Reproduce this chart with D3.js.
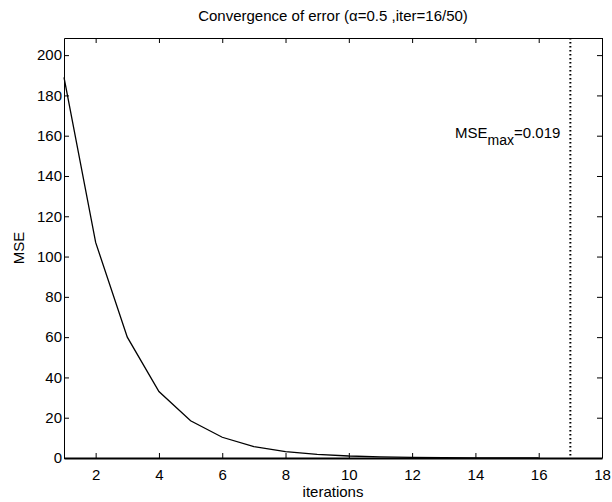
<!DOCTYPE html>
<html>
<head>
<meta charset="utf-8">
<script src="https://cdn.jsdelivr.net/npm/d3@7"></script>
<style>
  body { margin: 0; background: #fff; }
  text { font-family: "Liberation Sans", Arial, sans-serif; fill: #000; }
</style>
</head>
<body>
<div id="chart"></div>
<script>
// values
const iterations = [1, 2, 3, 4, 5, 6, 7, 8, 9, 10, 11, 12, 13, 14, 15, 16];
const mse = [189, 107, 60, 33, 18.5, 10.3, 5.7, 3.2, 1.8, 1.0, 0.55, 0.3, 0.17, 0.09, 0.05, 0.03];
const xTicks = [2, 4, 6, 8, 10, 12, 14, 16, 18];
const yTicks = [0, 20, 40, 60, 80, 100, 120, 140, 160, 180, 200];
const stopIter = 17;
const titleText = "Convergence of error (\u03b1=0.5 ,iter=16/50)";

const W = 612, H = 502;
const margin = { top: 38, right: 10, bottom: 44, left: 64 };
const width = W - margin.left - margin.right;
const height = H - margin.top - margin.bottom;

const svg = d3.select("#chart").append("svg")
    .attr("width", W)
    .attr("height", H);

const g = svg.append("g")
    .attr("transform", `translate(${margin.left},${margin.top})`);

const x = d3.scaleLinear().domain([1, 18]).range([0, width]);
const y = d3.scaleLinear().domain([0, 208.5]).range([height, 0]);

// axes with inward ticks on all four sides
g.append("g")
    .attr("transform", `translate(0,${height})`)
    .call(d3.axisBottom(x).tickValues(xTicks).tickSize(-5).tickPadding(11).tickSizeOuter(0))
    .call(a => a.select(".domain").attr("stroke-width", 2));
g.append("g")
    .call(d3.axisTop(x).tickValues(xTicks).tickSize(-5).tickFormat("").tickSizeOuter(0));
g.append("g")
    .call(d3.axisLeft(y).tickValues(yTicks).tickSize(-5).tickPadding(2).tickSizeOuter(0));
g.append("g")
    .attr("transform", `translate(${width},0)`)
    .call(d3.axisRight(y).tickValues(yTicks).tickSize(-5).tickFormat("").tickSizeOuter(0));

g.selectAll(".tick text").style("font-size", "15px");
g.selectAll(".domain").attr("stroke", "#000");
g.selectAll(".tick line").attr("stroke", "#000");

// error curve
const line = d3.line()
    .x((d, i) => x(iterations[i]))
    .y(d => y(d));

g.append("path")
    .datum(mse)
    .attr("fill", "none")
    .attr("stroke", "#000")
    .attr("stroke-width", 1.3)
    .attr("d", line);

// stopping iteration
g.append("line")
    .attr("x1", x(stopIter)).attr("x2", x(stopIter))
    .attr("y1", 0).attr("y2", height)
    .attr("stroke", "#000")
    .attr("stroke-width", 2)
    .attr("stroke-dasharray", "1.5,2.5");

// annotation
const ann = g.append("text")
    .attr("x", x(stopIter) - 10)
    .attr("y", y(159))
    .attr("text-anchor", "end")
    .style("font-size", "15px");
ann.append("tspan").text("MSE");
ann.append("tspan").attr("dy", 7).style("font-size", "14px").text("max");
ann.append("tspan").attr("dy", -7).text("=0.019");

// titles
svg.append("text")
    .attr("x", margin.left + width / 2)
    .attr("y", 21)
    .attr("text-anchor", "middle")
    .style("font-size", "15px")
    .text(titleText);

svg.append("text")
    .attr("x", margin.left + width / 2)
    .attr("y", 497)
    .attr("text-anchor", "middle")
    .style("font-size", "15px")
    .text("iterations");

svg.append("text")
    .attr("transform", `translate(24,${margin.top + height / 2}) rotate(-90)`)
    .attr("text-anchor", "middle")
    .style("font-size", "15px")
    .text("MSE");
</script>
</body>
</html>
